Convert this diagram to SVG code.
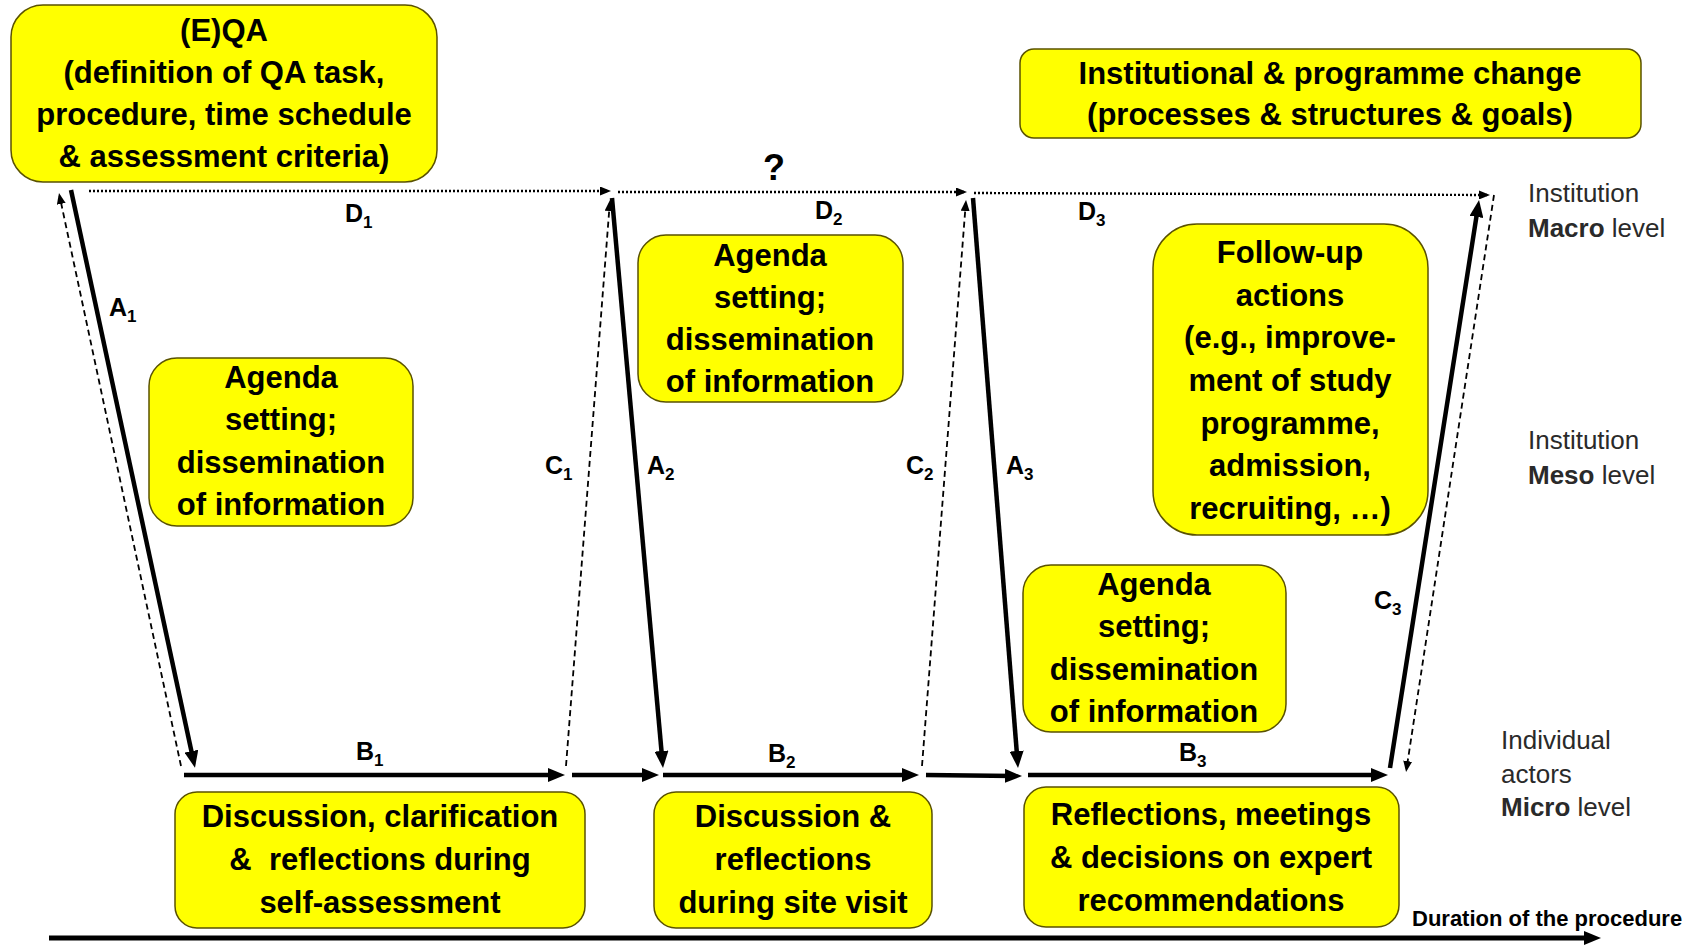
<svg xmlns="http://www.w3.org/2000/svg" width="1696" height="952" viewBox="0 0 1696 952">
<style>
.box{fill:#ffff00;stroke:#5a5200;stroke-width:1.5}
.bt{font-family:"Liberation Sans",Arial,sans-serif;font-weight:bold;font-size:31px;text-anchor:middle;fill:#000}
.lbl{font-family:"Liberation Sans",Arial,sans-serif;font-weight:bold;font-size:25px;fill:#000}
.sub{font-size:17px}
.lvl{font-family:"Liberation Sans",Arial,sans-serif;font-size:26px;fill:#2a2a2a}
.lvl .b{font-weight:bold}
.solid{stroke:#000;stroke-width:4.5;fill:none;marker-end:url(#big)}
.dash{stroke:#000;stroke-width:1.8;stroke-dasharray:6 4;fill:none;marker-end:url(#small)}
.dot{stroke:#000;stroke-width:2.4;stroke-dasharray:2 2;fill:none;marker-end:url(#small)}
</style>
<defs>
<marker id="big" markerUnits="userSpaceOnUse" markerWidth="17" markerHeight="14" viewBox="0 0 17 14" refX="9" refY="7" orient="auto"><path d="M0,0 L17,7 L0,14 z" fill="#000"/></marker>
<marker id="small" markerUnits="userSpaceOnUse" markerWidth="11" markerHeight="9" viewBox="0 0 11 9" refX="8" refY="4.5" orient="auto"><path d="M0,0 L11,4.5 L0,9 z" fill="#000"/></marker>
</defs>
<rect width="1696" height="952" fill="#fff"/>

<g id="connectors">
<line class="dot" x1="89" y1="191" x2="608" y2="191"/>
<line class="dot" x1="618" y1="192" x2="964" y2="192"/>
<line class="dot" x1="974" y1="193" x2="1487" y2="195"/>
<line class="solid" x1="71" y1="190" x2="193.3" y2="760"/>
<line class="dash" x1="181" y1="766" x2="59.6" y2="196"/>
<line class="solid" x1="184" y1="775" x2="557" y2="775"/>
<line class="solid" x1="572" y1="775" x2="651" y2="775"/>
<line class="dash" x1="566" y1="766" x2="609.8" y2="203"/>
<line class="solid" x1="612" y1="198" x2="662.3" y2="760"/>
<line class="solid" x1="663" y1="775" x2="911" y2="775"/>
<line class="dash" x1="922" y1="766" x2="965.8" y2="203"/>
<line class="solid" x1="926" y1="775" x2="1014" y2="776"/>
<line class="solid" x1="973" y1="198" x2="1017.4" y2="760"/>
<line class="solid" x1="1028" y1="775" x2="1380" y2="775"/>
<line class="solid" x1="1390" y1="768" x2="1477.8" y2="208"/>
<line class="dash" x1="1494" y1="195" x2="1406.5" y2="769"/>
<line class="solid" x1="49" y1="938" x2="1593" y2="938" style="stroke-width:5"/>
</g>

<g id="labels">
<text class="lbl" x="345" y="222">D<tspan class="sub" dy="6">1</tspan></text>
<text class="lbl" x="815" y="219">D<tspan class="sub" dy="6">2</tspan></text>
<text class="lbl" x="1078" y="220">D<tspan class="sub" dy="6">3</tspan></text>
<text class="lbl" x="109" y="316">A<tspan class="sub" dy="6">1</tspan></text>
<text class="lbl" x="545" y="474">C<tspan class="sub" dy="6">1</tspan></text>
<text class="lbl" x="647" y="474">A<tspan class="sub" dy="6">2</tspan></text>
<text class="lbl" x="906" y="474">C<tspan class="sub" dy="6">2</tspan></text>
<text class="lbl" x="1006" y="474">A<tspan class="sub" dy="6">3</tspan></text>
<text class="lbl" x="1374" y="609">C<tspan class="sub" dy="6">3</tspan></text>
<text class="lbl" x="356" y="760">B<tspan class="sub" dy="6">1</tspan></text>
<text class="lbl" x="768" y="762">B<tspan class="sub" dy="6">2</tspan></text>
<text class="lbl" x="1179" y="761">B<tspan class="sub" dy="6">3</tspan></text>
<text class="lbl" x="774" y="180" style="font-size:36px;text-anchor:middle">?</text>
<text class="lbl" x="1412" y="926" style="font-size:22px">Duration of the procedure</text>
<text class="lvl" x="1528" y="202">Institution</text>
<text class="lvl" x="1528" y="237"><tspan class="b">Macro</tspan> level</text>
<text class="lvl" x="1528" y="449">Institution</text>
<text class="lvl" x="1528" y="484"><tspan class="b">Meso</tspan> level</text>
<text class="lvl" x="1501" y="749">Individual</text>
<text class="lvl" x="1501" y="783">actors</text>
<text class="lvl" x="1501" y="816"><tspan class="b">Micro</tspan> level</text>
</g>

<g id="eqa">
<rect class="box" x="11" y="5" width="426" height="177" rx="32"/>
<text class="bt" x="224" y="41">(E)QA</text>
<text class="bt" x="224" y="83">(definition of QA task,</text>
<text class="bt" x="224" y="125">procedure, time schedule</text>
<text class="bt" x="224" y="167">&amp; assessment criteria)</text>
</g>

<g id="institutional-change">
<rect class="box" x="1020" y="49" width="621" height="89" rx="14"/>
<text class="bt" x="1330" y="84">Institutional &amp; programme change</text>
<text class="bt" x="1330" y="125">(processes &amp; structures &amp; goals)</text>
</g>

<g id="agenda1">
<rect class="box" x="149" y="358" width="264" height="168" rx="28"/>
<text class="bt" x="281" y="388">Agenda</text>
<text class="bt" x="281" y="430">setting;</text>
<text class="bt" x="281" y="473">dissemination</text>
<text class="bt" x="281" y="515">of information</text>
</g>

<g id="agenda2">
<rect class="box" x="638" y="235" width="265" height="167" rx="28"/>
<text class="bt" x="770" y="266">Agenda</text>
<text class="bt" x="770" y="308">setting;</text>
<text class="bt" x="770" y="350">dissemination</text>
<text class="bt" x="770" y="392">of information</text>
</g>

<g id="agenda3">
<rect class="box" x="1023" y="565" width="263" height="167" rx="28"/>
<text class="bt" x="1154" y="595">Agenda</text>
<text class="bt" x="1154" y="637">setting;</text>
<text class="bt" x="1154" y="680">dissemination</text>
<text class="bt" x="1154" y="722">of information</text>
</g>

<g id="follow-up">
<rect class="box" x="1153" y="224" width="275" height="311" rx="44"/>
<text class="bt" x="1290" y="263">Follow-up</text>
<text class="bt" x="1290" y="306">actions</text>
<text class="bt" x="1290" y="348">(e.g., improve-</text>
<text class="bt" x="1290" y="391">ment of study</text>
<text class="bt" x="1290" y="434">programme,</text>
<text class="bt" x="1290" y="476">admission,</text>
<text class="bt" x="1290" y="519">recruiting, …)</text>
</g>

<g id="self-assessment">
<rect class="box" x="175" y="792" width="410" height="136" rx="22"/>
<text class="bt" x="380" y="827">Discussion, clarification</text>
<text class="bt" x="380" y="870" xml:space="preserve">&amp;  reflections during</text>
<text class="bt" x="380" y="913">self-assessment</text>
</g>

<g id="site-visit">
<rect class="box" x="654" y="792" width="278" height="136" rx="22"/>
<text class="bt" x="793" y="827">Discussion &amp;</text>
<text class="bt" x="793" y="870">reflections</text>
<text class="bt" x="793" y="913">during site visit</text>
</g>

<g id="recommendations">
<rect class="box" x="1024" y="787" width="375" height="140" rx="22"/>
<text class="bt" x="1211" y="825">Reflections, meetings</text>
<text class="bt" x="1211" y="868">&amp; decisions on expert</text>
<text class="bt" x="1211" y="911">recommendations</text>
</g>
</svg>
